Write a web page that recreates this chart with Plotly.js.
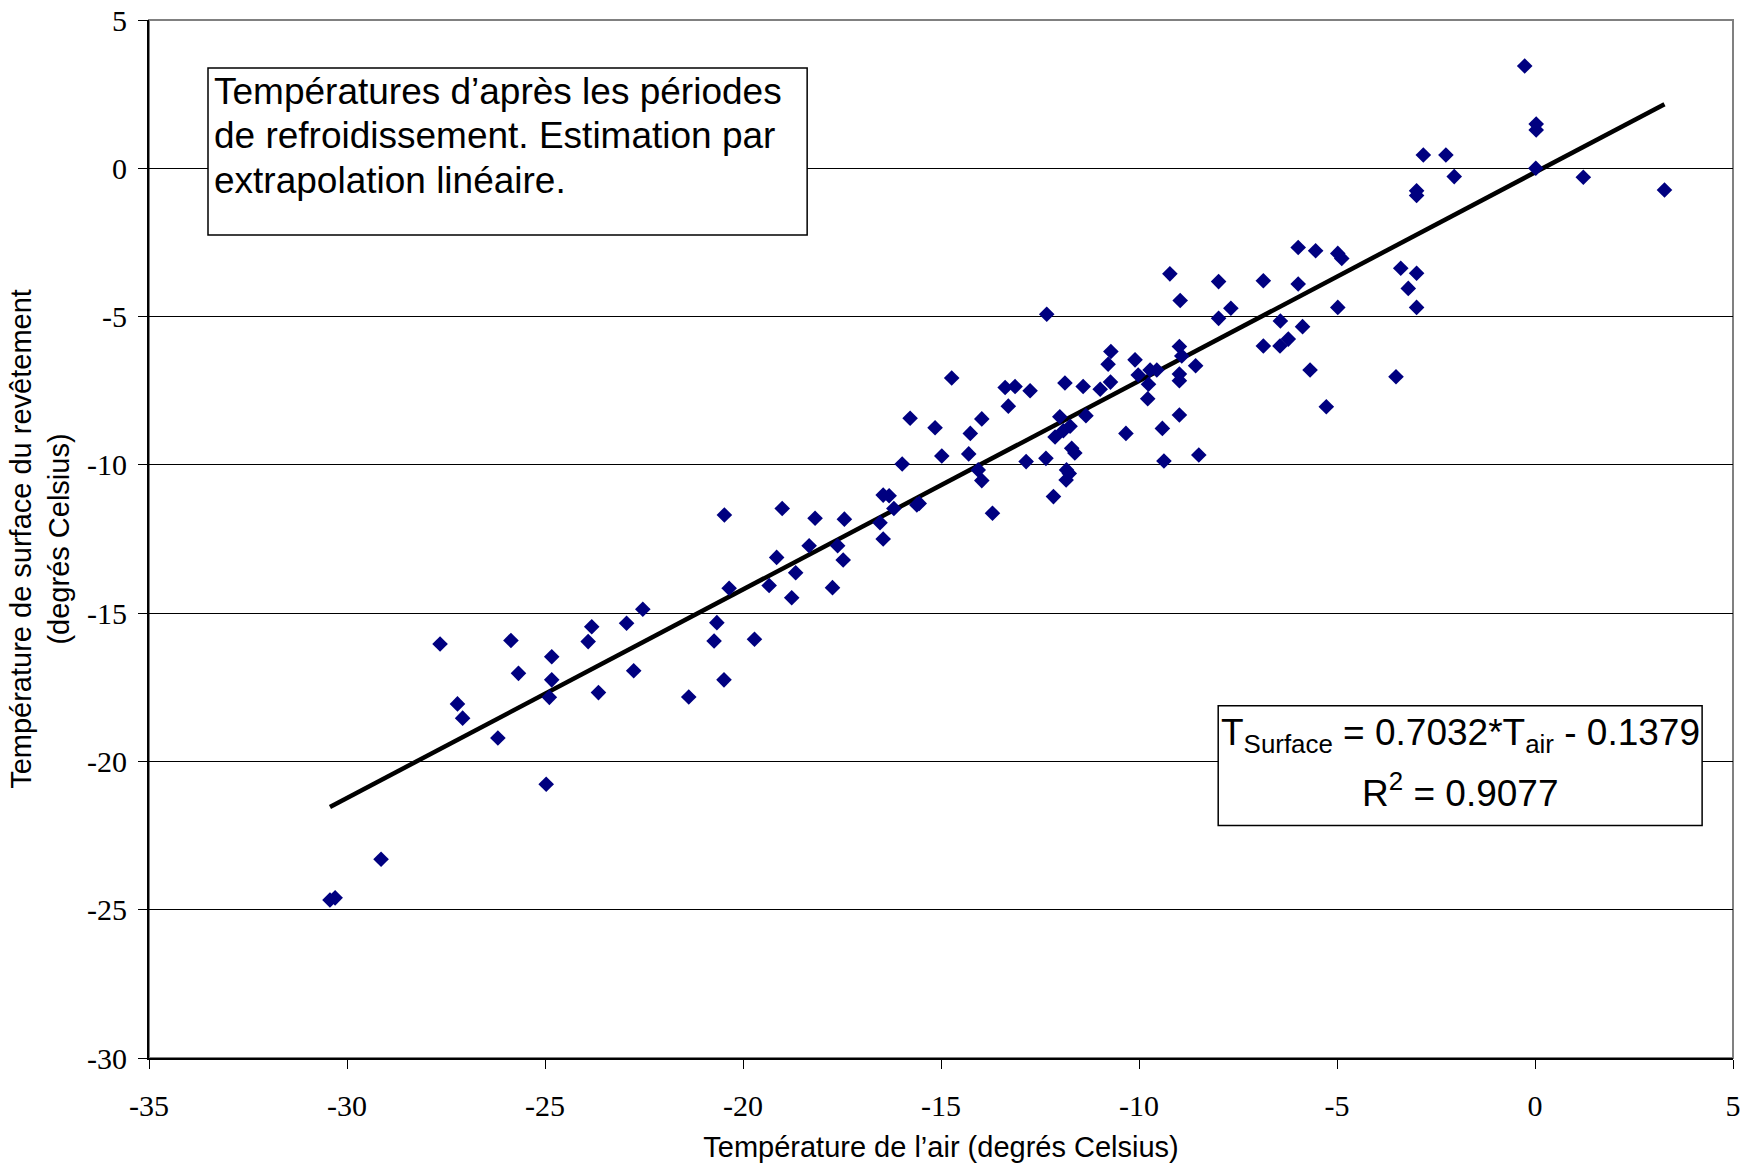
<!DOCTYPE html>
<html>
<head>
<meta charset="utf-8">
<script src="https://cdn.plot.ly/plotly-3.0.1.min.js"></script>
<style>
  html, body { margin: 0; padding: 0; background: #ffffff; }
  #chart { width: 1744px; height: 1164px; }
</style>
</head>
<body>
<div id="chart"></div>
<script>
// ---- Data ----
const airTemp = [
  -30.43, -30.30, -29.14, -27.65, -27.21, -27.08, -26.19, -25.86, -25.67, -24.97,
  -24.83, -24.83, -24.89, -23.91, -23.82, -23.65, -22.94, -22.76, -22.53, -21.37,
  -20.66, -20.73, -20.48, -20.35, -19.71, -19.34, -18.77, -18.67, -19.15, -18.33,
  -17.61, -17.47, -17.74, -20.47, -19.01, -18.18, -17.44, -16.54, -16.46, -16.46,
  -16.31, -16.19, -15.61, -15.55, -15.98, -15.78, -15.15, -14.98, -14.73, -14.30,
  -14.26, -14.06, -13.97, -13.97, -13.70, -13.38, -13.30, -13.13, -12.85, -12.75,
  -12.35, -12.33, -12.16, -12.12, -12.00, -11.91, -11.74, -11.87, -11.83, -11.76,
  -11.84, -11.70, -11.62, -11.41, -11.34, -10.98, -10.72, -10.33, -10.71, -10.78,
  -10.10, -10.02, -9.76, -9.78, -9.72, -9.55, -9.22, -9.41, -9.37, -8.98,
  -8.92, -8.98, -8.98, -8.98, -8.96, -8.57, -8.49, -7.99, -7.99, -7.68,
  -6.86, -6.86, -6.44, -6.43, -6.23, -5.98, -5.98, -5.87, -5.68, -5.54,
  -5.27, -4.98, -4.88, -4.98, -3.51, -3.39, -3.20, -2.99, -2.99, -2.82,
  -2.25, -2.04, -2.99, -2.99, -0.26, 0.03, 0.03, 0.02, 1.22, 3.27
];
const surfaceTemp = [
  -24.67, -24.60, -23.30, -16.04, -18.06, -18.54, -19.21, -15.92, -17.03, -20.77,
  -16.47, -17.25, -17.84, -15.96, -15.46, -17.68, -15.34, -16.94, -14.87, -17.83,
  -15.32, -15.94, -17.25, -14.16, -15.88, -14.07, -14.48, -13.64, -13.12, -12.73,
  -12.73, -13.21, -14.14, -11.69, -11.47, -11.80, -11.83, -11.95, -12.50, -11.02,
  -11.04, -11.47, -11.35, -11.30, -9.97, -8.43, -8.75, -9.70, -7.07, -9.63,
  -8.94, -10.17, -10.53, -8.45, -11.63, -7.39, -8.02, -7.36, -9.89, -7.50,
  -9.78, -4.92, -11.07, -9.06, -8.38, -8.85, -8.70, -7.24, -10.17, -10.29,
  -10.51, -9.44, -9.60, -7.36, -8.34, -7.45, -7.21, -8.94, -6.18, -6.61,
  -6.46, -6.97, -7.28, -7.77, -6.80, -6.80, -3.56, -8.77, -9.87, -6.01,
  -6.33, -6.94, -7.16, -8.32, -4.46, -6.66, -9.67, -3.82, -5.06, -4.72,
  -3.79, -5.99, -5.99, -5.15, -5.76, -2.67, -3.90, -5.34, -6.80, -2.78,
  -8.04, -2.87, -3.04, -4.69, -7.03, -3.37, -4.05, -3.54, -4.69, 0.45,
  0.45, -0.28, -0.76, -0.92, 3.45, 1.49, 1.29, 0.00, -0.30, -0.73
];

// Linear trend coefficients (as printed on the chart)
const trendSlope = 0.7032;
const trendIntercept = -0.1379;
const rSquared = 0.9077;

// Tick values and labels
const xTickVals = [-35, -30, -25, -20, -15, -10, -5, 0, 5];
const xTickText = ['-35', '-30', '-25', '-20', '-15', '-10', '-5', '0', '5'];
const yTickVals = [5, 0, -5, -10, -15, -20, -25, -30];
const yTickText = ['5', '0', '-5', '-10', '-15', '-20', '-25', '-30'];

// Texts
const noteLines = [
  'Températures d’après les périodes',
  'de refroidissement. Estimation par',
  'extrapolation linéaire.'
];
const eqLine1 = 'T<sub>Surface</sub> = ' + trendSlope.toFixed(4) + '*T<sub>air</sub> - ' +
               Math.abs(trendIntercept).toFixed(4);
const eqLine2 = 'R<sup>2</sup> = ' + rSquared.toFixed(4);
const xTitle = 'Température de l’air (degrés Celsius)';
const yTitle = 'Température de surface du revêtement<br>(degrés Celsius)';

// ---- Build traces ----
const xMin = Math.min(...airTemp);
const xMax = Math.max(...airTemp);
const trendX = [xMin, xMax];
const trendY = trendX.map(v => trendSlope * v + trendIntercept);

const scatter = {
  type: 'scatter',
  mode: 'markers',
  x: airTemp,
  y: surfaceTemp,
  marker: { symbol: 'diamond', size: 12, color: '#000080', line: { width: 0 } },
  hoverinfo: 'x+y'
};
const trend = {
  type: 'scatter',
  mode: 'lines',
  x: trendX,
  y: trendY,
  line: { color: '#000000', width: 4.5 },
  hoverinfo: 'skip'
};

const serif = "'Liberation Serif', 'Times New Roman', Times, serif";
const sans = "'Liberation Sans', Arial, sans-serif";

// note lines: vertical centres (data units) inside the note box
const noteLineY = [2.60, 1.10, -0.40];
const noteAnnotations = noteLines.map((t, i) => ({
  xref: 'x', yref: 'y', x: -33.40, y: noteLineY[i], xanchor: 'left', yanchor: 'middle',
  align: 'left', showarrow: false, text: t,
  font: { family: sans, size: 37, color: '#000000' }
}));

const layout = {
  width: 1744,
  height: 1164,
  margin: { l: 149, r: 11, t: 20, b: 106 },
  paper_bgcolor: '#ffffff',
  plot_bgcolor: '#ffffff',
  showlegend: false,
  xaxis: {
    range: [-35, 5],
    tickmode: 'array',
    tickvals: xTickVals,
    ticktext: xTickText,
    ticks: 'outside',
    ticklen: 9,
    tickwidth: 1,
    tickcolor: '#000000',
    ticklabelstandoff: 11,
    showline: true,
    linecolor: '#000000',
    linewidth: 2,
    showgrid: false,
    zeroline: false,
    tickfont: { family: serif, size: 30, color: '#000000' },
    title: { text: xTitle, font: { family: sans, size: 29, color: '#000000' }, standoff: 16 }
  },
  yaxis: {
    range: [-30, 5],
    tickmode: 'array',
    tickvals: yTickVals,
    ticktext: yTickText,
    ticks: 'outside',
    ticklen: 9,
    tickwidth: 1,
    tickcolor: '#000000',
    ticklabelstandoff: 5,
    showline: true,
    linecolor: '#000000',
    linewidth: 2,
    showgrid: true,
    gridcolor: '#000000',
    gridwidth: 1,
    zeroline: false,
    tickfont: { family: serif, size: 30, color: '#000000' },
    title: { text: yTitle, font: { family: sans, size: 29, color: '#000000' }, standoff: 9 }
  },
  shapes: [
    { type: 'rect', xref: 'paper', yref: 'paper', x0: 0, x1: 1, y0: 0, y1: 1,
      line: { color: '#808080', width: 2 }, layer: 'below' },
    // note box
    { type: 'rect', xref: 'x', yref: 'y', x0: -33.51, x1: -18.38, y0: 3.38, y1: -2.25,
      line: { color: '#000000', width: 1.5 }, fillcolor: '#ffffff', layer: 'above' },
    // equation box
    { type: 'rect', xref: 'x', yref: 'y', x0: -8.0, x1: 4.22, y0: -18.12, y1: -22.16,
      line: { color: '#000000', width: 1.5 }, fillcolor: '#ffffff', layer: 'above' }
  ],
  annotations: noteAnnotations.concat([
    { xref: 'x', yref: 'y', x: -1.89, y: -19.12, xanchor: 'center', yanchor: 'middle', align: 'center',
      showarrow: false, text: eqLine1, font: { family: sans, size: 37, color: '#000000' } },
    { xref: 'x', yref: 'y', x: -1.89, y: -20.97, xanchor: 'center', yanchor: 'middle', align: 'center',
      showarrow: false, text: eqLine2, font: { family: sans, size: 37, color: '#000000' } }
  ])
};

Plotly.newPlot('chart', [trend, scatter], layout, { staticPlot: true, displayModeBar: false });
</script>
</body>
</html>
